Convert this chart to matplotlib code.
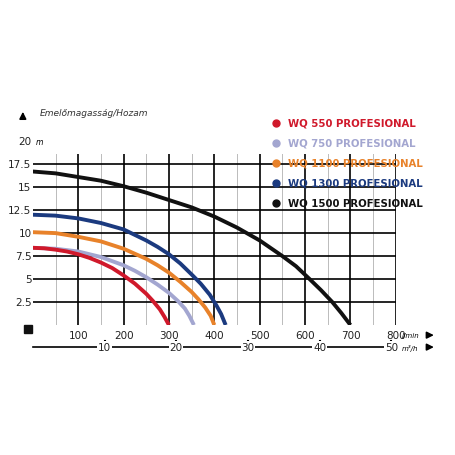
import numpy as np
import matplotlib
matplotlib.use("Agg")
import matplotlib.pyplot as plt

names = ["WQ 550 PROFESIONAL", "WQ 750 PROFESIONAL", "WQ 1100 PROFESIONAL", "WQ 1300 PROFESIONAL", "WQ 1500 PROFESIONAL"]
colors = ["#d0192b", "#a3a6d0", "#e8822a", "#1b3a7f", "#111111"]
q550 = [0, 25, 50, 75, 100, 125, 150, 175, 200, 225, 250, 265, 280, 290, 300]
h550 = [8.4, 8.35, 8.2, 8.0, 7.7, 7.3, 6.8, 6.2, 5.4, 4.5, 3.4, 2.6, 1.7, 0.9, 0]
q750 = [0, 50, 100, 150, 200, 225, 250, 275, 300, 320, 335, 345, 355]
h750 = [8.4, 8.3, 8.0, 7.4, 6.5, 5.9, 5.2, 4.4, 3.5, 2.6, 1.8, 1.0, 0]
q1100 = [0, 50, 100, 150, 200, 250, 275, 300, 325, 350, 365, 380, 392, 400]
h1100 = [10.1, 10.0, 9.6, 9.1, 8.3, 7.2, 6.5, 5.7, 4.7, 3.6, 2.8, 1.9, 1.0, 0]
q1300 = [0, 50, 100, 150, 200, 250, 275, 300, 325, 350, 370, 390, 405, 415, 425]
h1300 = [12.0, 11.9, 11.6, 11.1, 10.4, 9.2, 8.5, 7.7, 6.7, 5.5, 4.5, 3.3, 2.1, 1.2, 0]
q1500 = [0, 50, 100, 150, 200, 250, 300, 350, 400, 450, 500, 550, 580, 610, 635, 660, 680, 700]
h1500 = [16.7, 16.5, 16.1, 15.7, 15.1, 14.4, 13.6, 12.8, 11.8, 10.6, 9.2, 7.5, 6.4, 5.0, 3.8, 2.5, 1.3, 0]
xticks = [100, 200, 300, 400, 500, 600, 700, 800]
yticks = [2.5, 5, 7.5, 10, 12.5, 15, 17.5]
m3ticks = [10, 20, 30, 40, 50]

fig = plt.figure(figsize=(4.56, 4.56), dpi=100)
ax = fig.add_axes([0.072, 0.285, 0.796, 0.375])
ax.set_xlim(0, 800)
ax.set_ylim(0, 18.6)
for x in range(50, 800, 100):
    ax.axvline(x, color="#bbbbbb", lw=0.7, zorder=1)
for x in xticks:
    ax.axvline(x, color="black", lw=1.2, zorder=1)
for y in yticks:
    ax.axhline(y, color="black", lw=1.2, zorder=1)
for s in ax.spines.values():
    s.set_visible(False)
ax.set_xticks([]); ax.set_yticks([])

series = [(q550, h550), (q750, h750), (q1100, h1100), (q1300, h1300), (q1500, h1500)]
for i in [4, 3, 2, 1, 0]:
    q, h = series[i]
    ax.plot(q, h, color=colors[i], lw=2.8, solid_capstyle="butt", solid_joinstyle="round", zorder=3)

kw = dict(clip_on=False, fontsize=7.5, color="#222222")
for x in xticks:
    ax.text(x, -0.5, str(x), ha="center", va="top", **kw)
for y in yticks + [20]:
    ax.text(-3, y, str(y), ha="right", va="center", **kw)
ax.text(6, 20, "m", ha="left", va="center", style="italic", fontsize=5.5, clip_on=False)
ax.text(812, -1.1, "l/min", ha="left", va="center", style="italic", fontsize=5, clip_on=False)
f = 15.8
ym = -2.4
ax.plot([0, 50*f - 5], [ym, ym], color="black", lw=1.2, clip_on=False)
for m in m3ticks:
    ax.plot([m*f, m*f], [ym + 0.7, ym + 0.3], color="black", lw=1.5, clip_on=False)
    ax.text(m*f, ym, str(m), ha="center", va="center", fontsize=7.5, color="#222222",
            bbox=dict(fc="white", ec="none", pad=0.5), clip_on=False)
ax.text(812, ym, "m³/h", ha="left", va="center", style="italic", fontsize=5, clip_on=False)
for yy in [-1.1, ym]:
    ax.annotate("", xy=(890, yy), xytext=(862, yy), annotation_clip=False,
                arrowprops=dict(arrowstyle="-|>", color="black", lw=1.2))
ax.plot([-10], [-0.4], marker="s", color="#111111", ms=6, clip_on=False)
ax.annotate("", xy=(-22, 23.5), xytext=(-22, 22.2), annotation_clip=False,
            arrowprops=dict(arrowstyle="-|>", color="black", lw=1.2))
ax.text(15, 23.1, "Emelőmagasság/Hozam", style="italic", fontsize=6.5, color="#333333",
        ha="left", va="center", clip_on=False)
for i, (n, c) in enumerate(zip(names, colors)):
    y = 22.0 - i * 2.17
    ax.plot([535], [y], "o", color=c, ms=5, clip_on=False)
    ax.text(563, y, n, color=c, fontsize=7.3, fontweight="bold", ha="left", va="center", clip_on=False)

fig.savefig("out.png", dpi=100, facecolor="white")
